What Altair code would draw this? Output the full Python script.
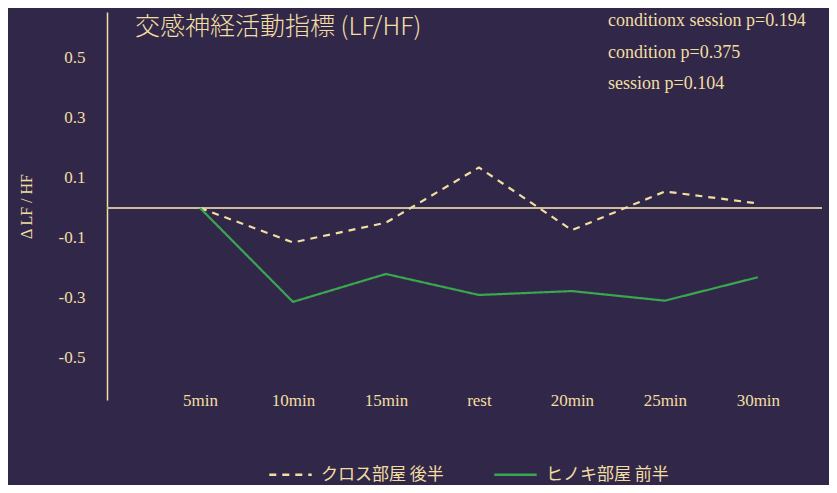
import altair as alt
import pandas as pd

sessions = ["5min", "10min", "15min", "rest", "20min", "25min", "30min"]
series_names = ["クロス部屋 後半", "ヒノキ部屋 前半"]
cross_late = [0.0, -0.115, -0.049, 0.135, -0.074, 0.055, 0.015]
hinoki_early = [0.0, -0.313, -0.22, -0.29, -0.277, -0.309, -0.231]
y_ticks = [0.5, 0.3, 0.1, -0.1, -0.3, -0.5]
title_text = "交感神経活動指標 (LF/HF)"
notes = ["conditionx session p=0.194", "condition p=0.375", "session p=0.104"]

BG = "#312849"
CREAM = "#f3dea2"
GREEN = "#3aa64f"
ZERO = "#cdbd9c"
SERIF = "Liberation Serif"
CJK = "Noto Sans CJK JP"

rows = []
for i, s in enumerate(sessions):
    rows.append({"idx": i + 1, "session": s, "value": cross_late[i], "group": series_names[0]})
    rows.append({"idx": i + 1, "session": s, "value": hinoki_early[i], "group": series_names[1]})
df = pd.DataFrame(rows)

label_js = "[" + ",".join("'" + s + "'" for s in sessions) + "]"

xscale = alt.Scale(domain=[0, 7.69], nice=False, zero=False)
yscale = alt.Scale(domain=[-0.64, 0.653], nice=False, zero=False)

yaxis = alt.Axis(values=y_ticks,
                 labelExpr="(datum.value < 0 ? '-' : '') + format(abs(datum.value), '.1f')",
                 domain=True, domainColor=CREAM,
                 domainWidth=1.5, ticks=False, grid=False,
                 title="Δ LF / HF", titleFont=SERIF, titleFontSize=16,
                 titleFontWeight="normal", titleColor=CREAM, titlePadding=24,
                 labelFont=SERIF, labelFontSize=17, labelColor=CREAM,
                 labelPadding=22)

legend = alt.Legend(title=None, orient="none", direction="horizontal",
                    legendX=161, legendY=440, symbolType="stroke",
                    symbolSize=1800, symbolStrokeWidth=2.5,
                    labelFont=CJK, labelFontSize=17, labelColor=CREAM,
                    columnPadding=45, labelOffset=8, padding=0)

zero_df = pd.DataFrame({"value": [0.0]})
zero_rule = alt.Chart(zero_df).mark_rule(color=ZERO, strokeWidth=2).encode(
    y=alt.Y("value:Q", scale=yscale, axis=yaxis)
)

lines = alt.Chart(df).mark_line(strokeWidth=2.2).encode(
    x=alt.X("idx:Q", scale=xscale,
            axis=alt.Axis(values=list(range(1, len(sessions) + 1)),
                          labelExpr=label_js + "[datum.value - 1]",
                          domain=False, ticks=False, grid=False, title=None,
                          labelFont=SERIF, labelFontSize=17, labelColor=CREAM,
                          labelPadding=-8)),
    y=alt.Y("value:Q", scale=yscale, axis=yaxis),
    color=alt.Color("group:N", scale=alt.Scale(domain=series_names, range=[CREAM, GREEN]),
                    legend=legend),
    strokeDash=alt.StrokeDash("group:N",
                              scale=alt.Scale(domain=series_names, range=[[7, 6], [1, 0]]),
                              legend=legend),
    order=alt.Order("idx:Q"),
)

title_mark = alt.Chart(pd.DataFrame({"t": [title_text]})).mark_text(
    font=CJK, fontSize=25, fontWeight=300, color=CREAM, align="left", baseline="middle"
).encode(text="t:N", x=alt.value(28), y=alt.value(15))

note_layers = []
for k, t in enumerate(notes):
    note_layers.append(
        alt.Chart(pd.DataFrame({"t": [t]})).mark_text(
            font=SERIF, fontSize=18, color=CREAM, align="left", baseline="middle"
        ).encode(text="t:N", x=alt.value(501), y=alt.value(9 + k * 31.5))
    )

chart = alt.layer(zero_rule, lines, title_mark, *note_layers).properties(
    width=715, height=388,
    autosize=alt.AutoSizeParams(type="none"),
    padding={"left": 99, "top": 4, "right": 7, "bottom": 85},
    background=BG,
).configure_view(stroke=None)

chart.save("out.html", embed_options={"renderer": "svg", "actions": False})
